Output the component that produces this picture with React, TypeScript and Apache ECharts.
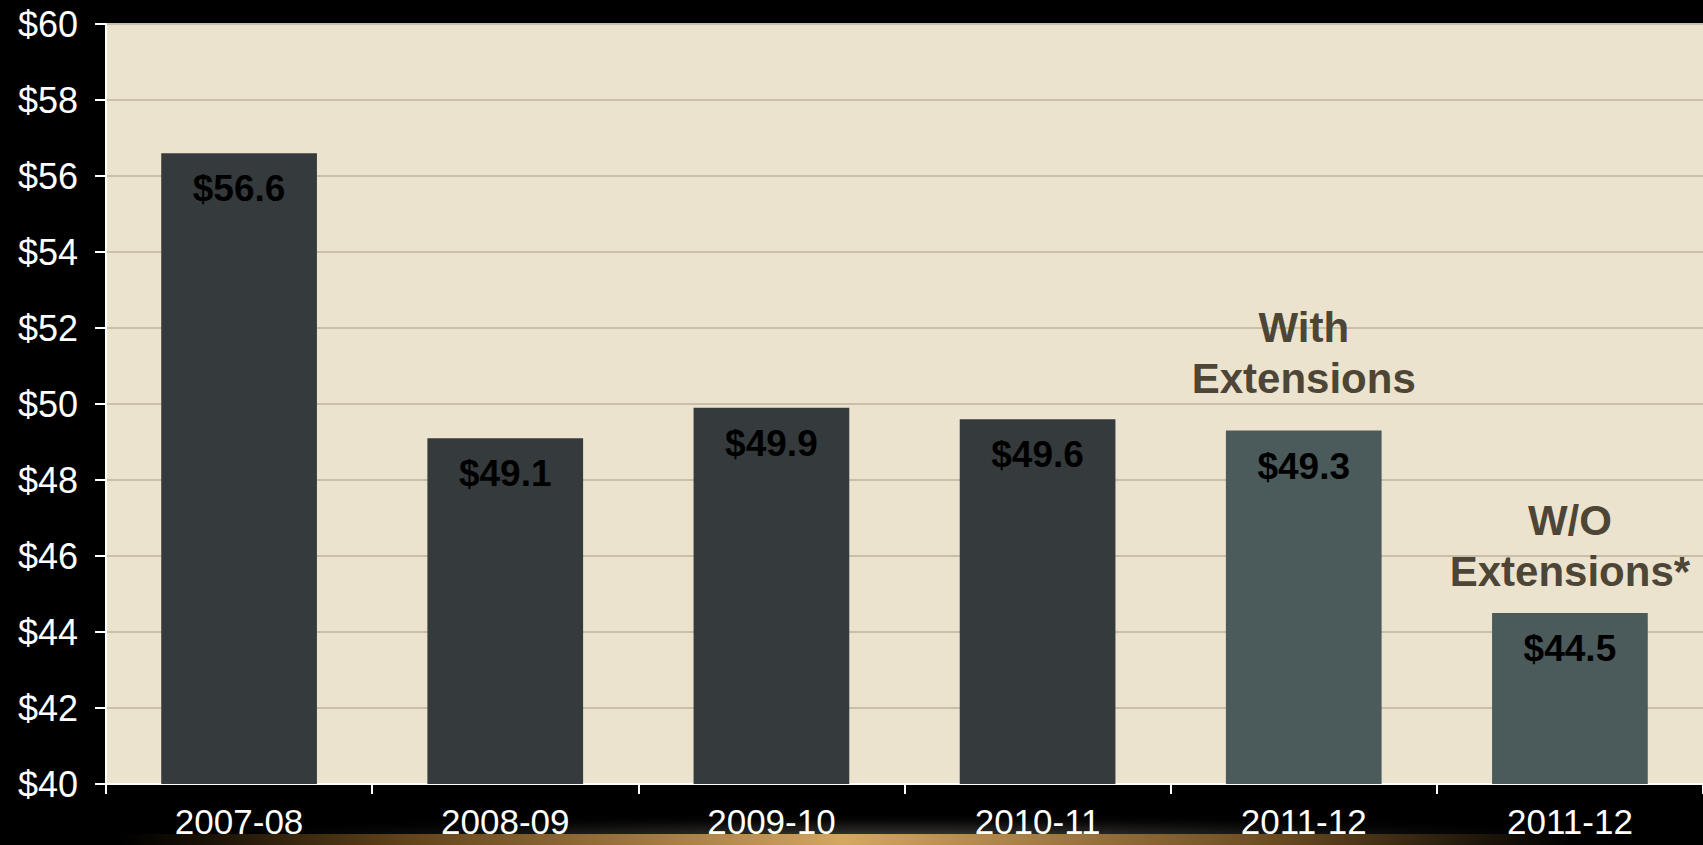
import React, { useEffect, useRef } from "react";
import * as echarts from "echarts";

const categories = ["2007-08", "2008-09", "2009-10", "2010-11", "2011-12", "2011-12"];
const values = [56.6, 49.1, 49.9, 49.6, 49.3, 44.5];
const barColors = ["#353b3d", "#353b3d", "#353b3d", "#353b3d", "#4b5a5b", "#4b5a5b"];
const annotationTexts = ["With\nExtensions", "W/O\nExtensions*"];
const annotationPoints = [
  [4, 51.33],
  [5, 46.26],
];

export default function App() {
  const ref = useRef<HTMLDivElement>(null);
  useEffect(() => {
    if (!ref.current) return;
    const chart = echarts.init(ref.current, null, { renderer: "svg" });
    const font = "Liberation Sans, Arial, Helvetica, sans-serif";
    chart.setOption({
      animation: false,
      backgroundColor: "#000000",
      graphic: [
        {
          type: "rect",
          z: -10,
          shape: { x: 0, y: 786, width: 1703, height: 59 },
          style: {
            fill: new echarts.graphic.RadialGradient(0.53, 0.9, 0.45, [
              { offset: 0, color: "rgba(95,92,88,0.75)" },
              { offset: 0.5, color: "rgba(50,48,46,0.5)" },
              { offset: 1, color: "rgba(0,0,0,0)" },
            ]),
          },
        },
        {
          type: "rect",
          z: -9,
          shape: { x: 120, y: 834, width: 1450, height: 11 },
          style: {
            fill: new echarts.graphic.LinearGradient(0, 0, 1, 0, [
              { offset: 0, color: "rgba(150,100,30,0)" },
              { offset: 0.2, color: "rgba(170,115,40,0.55)" },
              { offset: 0.5, color: "rgba(230,180,100,0.9)" },
              { offset: 0.8, color: "rgba(170,115,40,0.55)" },
              { offset: 1, color: "rgba(150,100,30,0)" },
            ]),
          },
        },
      ],
      grid: {
        left: 106,
        right: 0,
        top: 24,
        bottom: 61,
        show: true,
        backgroundColor: "#ece3cf",
        borderWidth: 0,
      },
      xAxis: {
        type: "category",
        data: categories,
        axisLine: { show: true, lineStyle: { color: "#ffffff", width: 2 } },
        axisTick: { show: true, length: 10, lineStyle: { color: "#ffffff", width: 2 } },
        axisLabel: { color: "#ffffff", fontSize: 35, fontFamily: font, margin: 20, interval: 0 },
      },
      yAxis: {
        type: "value",
        min: 40,
        max: 60,
        interval: 2,
        axisLine: { show: true, lineStyle: { color: "#ffffff", width: 2 } },
        axisTick: { show: true, length: 11, lineStyle: { color: "#ffffff", width: 2 } },
        axisLabel: {
          color: "#ffffff",
          fontSize: 36,
          fontFamily: font,
          margin: 28,
          formatter: (v: number) => "$" + v,
        },
        splitLine: { show: true, lineStyle: { color: "#c9bfa9", width: 2 } },
      },
      series: [
        {
          type: "bar",
          barWidth: "58.5%",
          data: values.map((v, i) => ({ value: v, itemStyle: { color: barColors[i] } })),
          label: {
            show: true,
            position: "insideTop",
            distance: 17,
            color: "#000000",
            fontSize: 37,
            fontWeight: "bold",
            fontFamily: font,
            formatter: (p: any) => "$" + p.value.toFixed(1),
          },
        },
        {
          type: "scatter",
          symbolSize: 0,
          itemStyle: { opacity: 1 },
          data: annotationPoints,
          label: {
            show: true,
            position: "inside",
            color: "#4d4636",
            fontSize: 42,
            lineHeight: 51,
            fontWeight: "bold",
            fontFamily: font,
            align: "center",
            formatter: (p: any) => annotationTexts[p.dataIndex],
          },
          z: 5,
        },
      ],
    });
    return () => chart.dispose();
  }, []);
  return (
    <div
      ref={ref}
      style={{ position: "fixed", left: 0, top: 0, width: 1703, height: 845 }}
    />
  );
}
